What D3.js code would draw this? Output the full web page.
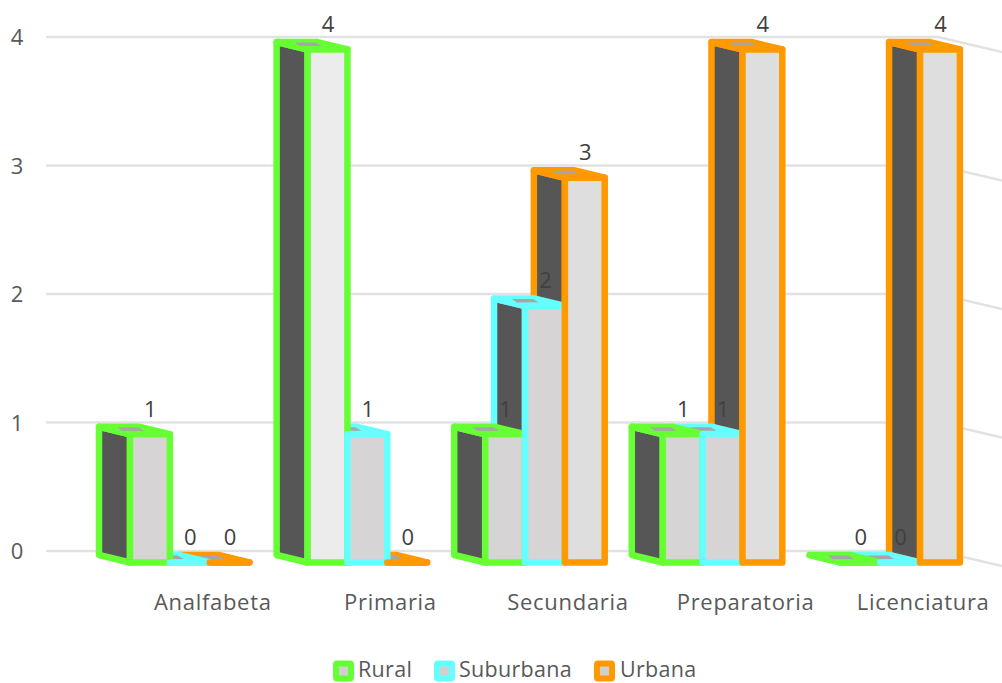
<!DOCTYPE html>
<html>
<head>
<meta charset="utf-8">
<script src="https://cdn.jsdelivr.net/npm/d3@7/dist/d3.min.js"></script>
<style>
html,body{margin:0;padding:0;background:#fff;overflow:hidden}
svg{display:block}
text{font-family:"Open Sans",sans-serif}
</style>
</head>
<body>
<svg id="chart" width="1002" height="683"></svg>
<script>
const categories = ["Analfabeta","Primaria","Secundaria","Preparatoria","Licenciatura"];
const seriesNames = ["Rural","Suburbana","Urbana"];
const rural = [1,4,1,1,0];
const suburbana = [0,1,2,1,0];
const urbana = [0,0,3,4,4];
const yTicks = [0,1,2,3,4];

const seriesValues = [rural,suburbana,urbana];
const strokeColors = ["#66ff33","#66ffff","#ff9900"];
const frontColors = ["#d6d4d4","#d6d4d4","#dedede"];
const brightFront = "#ececec";
const sideColor = "#565656", topColor = "#a6a6a6", gridColor = "#e2e2e2";
const axisText = "#595959", labelText = "#404040";

const svg = d3.select("#chart");

const x0 = d3.scaleBand().domain(categories).range([102,990]);
const x1 = d3.scaleBand().domain(seriesNames).range([28,147.5]);
const yFront = d3.scaleLinear().domain([0,4]).range([562.5,49.5]);
const yWall = d3.scaleLinear().domain([0,4]).range([551,37]);
const depthX = 31, depthY = 7.5;
const wallStart = 46, wallCorner = 938, wallEnd = 1002, wallDrop = 15;

// gridlines on back and side wall
const line = d3.line();
svg.append("g").selectAll("path").data(yTicks).join("path")
  .attr("d", d => line([[wallStart,yWall(d)],[wallCorner,yWall(d)],[wallEnd,yWall(d)+wallDrop]]))
  .attr("fill","none").attr("stroke",gridColor).attr("stroke-width",2.5);

// value axis labels
const yAxis = d3.axisLeft(yWall).tickValues(yTicks).tickFormat(d3.format("d")).tickSize(0).tickPadding(0);
const gy = svg.append("g").attr("transform","translate(25,0)").call(yAxis);
gy.select(".domain").remove();
gy.selectAll("text").attr("font-size",22).attr("fill",axisText)
  .attr("font-family",'"Open Sans",sans-serif')
  .attr("dy","0.36em").attr("text-anchor","middle").attr("x",-8);

// category axis labels
const xAxis = d3.axisBottom(x0).tickSize(0).tickPadding(0);
const gx = svg.append("g").attr("transform","translate(22,591)").call(xAxis);
gx.select(".domain").remove();
gx.selectAll("text").attr("font-size",22).attr("fill",axisText)
  .attr("font-family",'"Open Sans",sans-serif').attr("letter-spacing",0.7)
  .attr("y",1).attr("dy","0.82em");

// flatten to records
const bars = [];
seriesNames.forEach((s,si) => categories.forEach((c,ci) => {
  const l = x0(c) + x1(s), r = l + x1.bandwidth();
  bars.push({s,si,c,ci,v:seriesValues[si][ci],l,r,yt:yFront(seriesValues[si][ci]),yb:yFront(0)});
}));

const marks = svg.append("g").attr("stroke-linejoin","round").attr("stroke-width",6.5);
const poly = pts => line(pts) + "Z";

// sides and tops: farthest series first
const backOrder = bars.slice().sort((a,b)=>b.si-a.si || a.ci-b.ci);
backOrder.forEach(b => {
  const g = marks.append("g").attr("stroke",strokeColors[b.si]);
  if (b.v > 0) {
    g.append("path").attr("fill",sideColor).attr("d",poly([
      [b.l,b.yt],[b.l-depthX,b.yt-depthY],[b.l-depthX,b.yb-depthY],[b.l,b.yb]]));
  }
  g.append("path").attr("fill",strokeColors[b.si]).attr("d",poly([
    [b.l,b.yt],[b.l-depthX,b.yt-depthY],[b.r-depthX,b.yt-depthY],[b.r,b.yt]]));
  g.append("path").attr("stroke","none").attr("fill",topColor).attr("d",poly([
    [b.l-13,b.yt-7],[b.l+8,b.yt-7],[b.l+14,b.yt-3.5],[b.l-8,b.yt-3.5]]));
});

// fronts: nearest left series first, each right neighbour overlaps
bars.forEach(b => {
  const fill = (b.si===0 && b.v===4) ? brightFront : frontColors[b.si];
  marks.append("path").attr("stroke",strokeColors[b.si]).attr("fill",fill)
    .attr("d",poly([[b.l,b.yt],[b.r,b.yt],[b.r,b.yb],[b.l,b.yb]]));
});

// data labels
svg.append("g").selectAll("text").data(bars).join("text")
  .attr("x",d=>(d.l+d.r)/2+0.5).attr("y",d=>d.yt-25.5)
  .attr("dy","0.36em").attr("text-anchor","middle")
  .attr("font-size",22).attr("fill",labelText).text(d=>d.v);

// legend
const legendSwatch = d3.scaleOrdinal().domain(seriesNames).range([343.5,444.5,604.5]);
const legendText = d3.scaleOrdinal().domain(seriesNames).range([358,459,620]);
const lg = svg.append("g").selectAll("g").data(seriesNames).join("g");
lg.append("rect").attr("x",d=>legendSwatch(d)-8.5).attr("y",662.5).attr("width",17).attr("height",17)
  .attr("rx",2).attr("fill",(d,i)=>strokeColors[i]).attr("stroke",(d,i)=>strokeColors[i]).attr("stroke-width",4).attr("stroke-linejoin","round");
lg.append("rect").attr("x",d=>legendSwatch(d)-4.5).attr("y",666.5).attr("width",9).attr("height",9).attr("fill","#d0d0d0");
lg.append("text").attr("x",d=>legendText(d)).attr("y",676.5)
  .attr("font-size",21.5).attr("fill",axisText).attr("letter-spacing",0.3).text(d=>d);
</script>
</body>
</html>
